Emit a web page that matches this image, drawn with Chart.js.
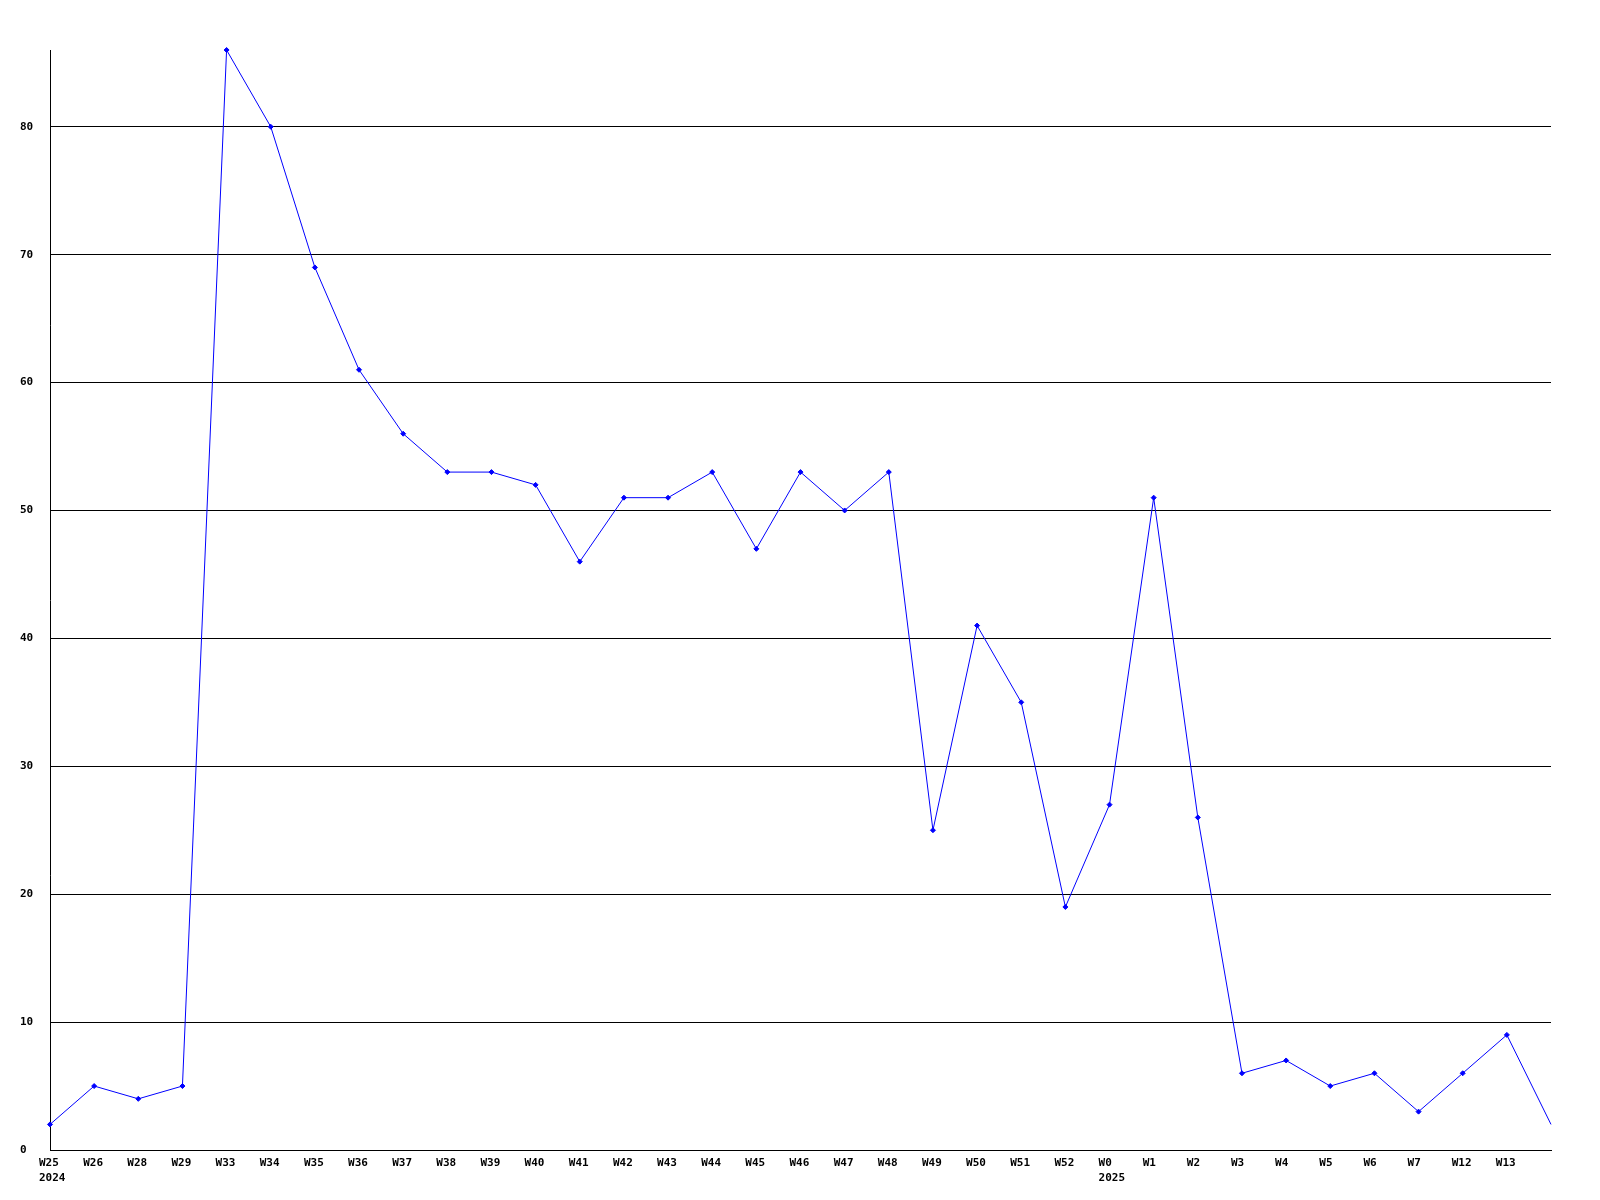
<!DOCTYPE html>
<html>
<head>
<meta charset="utf-8">
<script src="https://cdn.jsdelivr.net/npm/chart.js@4/dist/chart.umd.min.js"></script>
<style>
html,body{margin:0;padding:0;background:#fff;}
#wrap{width:1600px;height:1200px;}
</style>
</head>
<body>
<div id="wrap"><canvas id="c" width="1600" height="1200"></canvas></div>
<script>
const weekLabels = ["W25","W26","W28","W29","W33","W34","W35","W36","W37","W38","W39","W40","W41","W42","W43","W44","W45","W46","W47","W48","W49","W50","W51","W52","W0","W1","W2","W3","W4","W5","W6","W7","W12","W13",""];
const yearLabels = {0: "2024", 24: "2025"};
const values = [2,5,4,5,86,80,69,61,56,53,53,52,46,51,51,53,47,53,50,53,25,41,35,19,27,51,26,6,7,5,6,3,6,9,2];
const yMax = 86;
const yStep = 10;

const labels = weekLabels.map((w, i) => yearLabels[i] ? [w, yearLabels[i]] : w);
const font = {family: "'DejaVu Sans Mono', monospace", size: 11, weight: 'bold', lineHeight: 1.35};

new Chart(document.getElementById('c'), {
  type: 'line',
  data: {
    labels: labels,
    datasets: [{
      data: values,
      borderColor: '#0000ff',
      backgroundColor: '#0000ff',
      borderWidth: 1,
      tension: 0,
      clip: false,
      pointStyle: 'rectRot',
      pointRadius: (ctx) => ctx.dataIndex === values.length - 1 ? 0 : 2.5,
      pointBorderWidth: 1,
      pointHoverRadius: 2.5,
      fill: false
    }]
  },
  options: {
    responsive: false,
    animation: false,
    devicePixelRatio: 1,
    layout: {padding: {left: 20, right: 49, top: 50, bottom: 0}},
    plugins: {legend: {display: false}, tooltip: {enabled: false}},
    scales: {
      x: {
        offset: false,
        grid: {display: false, drawTicks: false},
        border: {display: true, color: '#000', width: 1},
        ticks: {
          autoSkip: false, maxRotation: 0, minRotation: 0,
          align: 'start', labelOffset: -11, padding: 6,
          color: '#000', font: font
        },
        afterFit: (s) => { s.height = 50; }
      },
      y: {
        min: 0, max: yMax,
        grid: {color: '#000', lineWidth: 1, drawTicks: false},
        border: {display: true, color: '#000', width: 1},
        ticks: {
          stepSize: yStep, includeBounds: false,
          crossAlign: 'far', padding: 0,
          color: '#000', font: font
        },
        afterFit: (s) => { s.width = 30; }
      }
    }
  }
});
</script>
</body>
</html>
